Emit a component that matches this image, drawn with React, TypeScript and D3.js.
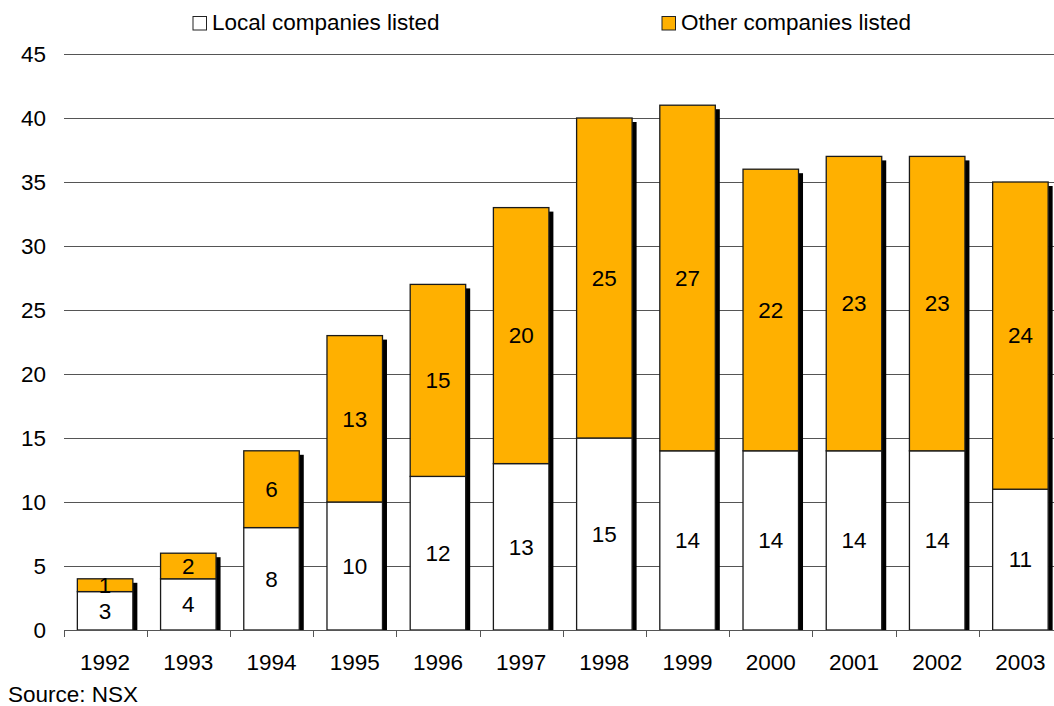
import React from "react";
import * as d3 from "d3";

const years = ["1992","1993","1994","1995","1996","1997","1998","1999","2000","2001","2002","2003"];
const localListed = [3,4,8,10,12,13,15,14,14,14,14,11];
const otherListed = [1,2,6,13,15,20,25,27,22,23,23,24];
const yTicks = [0,5,10,15,20,25,30,35,40,45];
const seriesNames = ["Local companies listed","Other companies listed"];

const W = 1054, H = 706;
const ORANGE = "#FFB000";
const FONT = "Liberation Sans, Arial, sans-serif";
const FS = 22.5;

export default function App() {
  const y = d3.scaleLinear().domain([0,45]).range([630,54]);
  const x = d3.scaleBand<string>().domain(years).range([63.5,1062]).paddingInner(0.333).paddingOuter(0.1665);
  const step = x.step();
  const bw = x.bandwidth();
  return (
    <svg width={W} height={H} style={{position:"absolute",left:0,top:0}} fontFamily={FONT}>
      <rect x={0} y={0} width={W} height={H} fill="#fff" />
      {yTicks.map(t => (
        <g key={t}>
          <line x1={64} x2={W} y1={y(t)+0.5} y2={y(t)+0.5} stroke="#555" strokeWidth={1} />
          <text x={46} y={y(t)} dy="0.35em" textAnchor="end" fontSize={FS} fill="#000">{t}</text>
        </g>
      ))}
      {years.map((yr,i) => {
        const x0 = x(yr)!;
        const total = localListed[i] + otherListed[i];
        return (
          <rect key={"s"+yr} x={x0+bw} y={y(total)+4} width={4.5} height={y(0)-y(total)-4} fill="#000" />
        );
      })}
      {years.map((yr,i) => {
        const x0 = x(yr)!;
        const l = localListed[i], o = otherListed[i];
        return (
          <g key={yr}>
            <rect x={x0} y={y(l)} width={bw} height={y(0)-y(l)} fill="#fff" stroke="#1a1a1a" strokeWidth={1.3} />
            <rect x={x0} y={y(l+o)} width={bw} height={y(l)-y(l+o)} fill={ORANGE} stroke="#1a1a1a" strokeWidth={1.3} />
            <text x={x0+bw/2} y={y(l/2)} dy="0.35em" textAnchor="middle" fontSize={FS}>{l}</text>
            <text x={x0+bw/2} y={y(l+o/2)} dy="0.35em" textAnchor="middle" fontSize={FS}>{o}</text>
          </g>
        );
      })}
      <line x1={64} x2={W} y1={630.5} y2={630.5} stroke="#555" />
      {d3.range(years.length+1).map(k => {
        const xx = Math.round(63.5 + k*step) + 0.5;
        return <line key={"t"+k} x1={xx} x2={xx} y1={630} y2={637} stroke="#555" />;
      })}
      {years.map(yr => (
        <text key={"l"+yr} x={x(yr)!+bw/2} y={670} textAnchor="middle" fontSize={FS}>{yr}</text>
      ))}
      <rect x={193} y={16.5} width={13.5} height={13.5} fill="#fff" stroke="#222" />
      <text x={212} y={30} fontSize={FS}>{seriesNames[0]}</text>
      <rect x={662} y={16.5} width={13.5} height={13.5} fill={ORANGE} stroke="#222" />
      <text x={681} y={30} fontSize={FS}>{seriesNames[1]}</text>
      <text x={8} y={702} fontSize={FS}>Source: NSX</text>
    </svg>
  );
}
